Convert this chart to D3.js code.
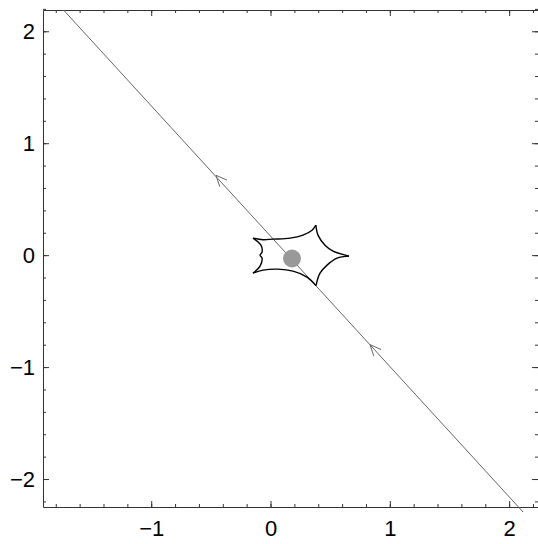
<!DOCTYPE html>
<html>
<head>
<meta charset="utf-8">
<script src="https://cdn.jsdelivr.net/npm/d3@7"></script>
<style>
  body { margin: 0; background: #fff; }
  svg { display: block; }
  .axis text { font-family: "Liberation Sans", Arial, sans-serif; font-size: 22px; fill: #000; }
  .axis path, .axis line { stroke: #333; }
</style>
</head>
<body>
<div id="chart"></div>
<script>
// tick values
var xTicks = [-1, 0, 1, 2];
var yTicks = [-2, -1, 0, 1, 2];
var xMinor = d3.range(-1.8, 2.21, 0.2).map(function(v) { return Math.round(v * 10) / 10; });
var yMinor = d3.range(-2.2, 2.21, 0.2).map(function(v) { return Math.round(v * 10) / 10; });

// source trajectory (straight line) and direction arrows
var trajX = [-1.748, 2.117];
var trajY = [2.205, -2.295];
var arrowX = [-0.457, 0.834];
var arrowY = [0.713, -0.80];

// source disk
var diskX = 0.18, diskY = -0.03, diskR = 0.075;

// caustic curve, split at the cusps
var causticTop = [[-0.147, 0.152], [-0.063, 0.138], [0.021, 0.143], [0.163, 0.152], [0.272, 0.179], [0.348, 0.223], [0.38, 0.268]];
var causticUpperRight = [[0.38, 0.268], [0.398, 0.179], [0.457, 0.089], [0.524, 0.036], [0.658, -0.009]];
var causticLowerRight = [[0.658, -0.009], [0.558, -0.027], [0.474, -0.089], [0.415, -0.161], [0.381, -0.272]];
var causticBottom = [[0.381, -0.272], [0.306, -0.196], [0.189, -0.143], [0.063, -0.125], [-0.063, -0.134], [-0.147, -0.161]];
var causticLeft = [[-0.147, -0.161], [-0.088, -0.098], [-0.071, -0.027], [-0.088, 0.0], [-0.071, 0.027], [-0.080, 0.089], [-0.147, 0.152]];

var width = 538, height = 544;
var margin = {top: 10, right: 0, bottom: 37, left: 43};
var w = width - margin.left - margin.right,
    h = height - margin.top - margin.bottom;

var x = d3.scaleLinear().domain([-1.907, 2.242]).range([0, w]);
var y = d3.scaleLinear().domain([-2.25, 2.19]).range([h, 0]);

var svg = d3.select("#chart").append("svg")
    .attr("width", width)
    .attr("height", height)
    .append("g")
    .attr("transform", "translate(" + margin.left + "," + margin.top + ")");

svg.append("clipPath").attr("id", "clip")
    .append("rect").attr("x", 0).attr("y", 0).attr("width", w).attr("height", h + 6);

// frame with ticks inside
function drawAxis(axis, tr, minor, labels) {
  var g = svg.append("g").attr("class", "axis").attr("transform", tr);
  g.call(axis);
  if (!labels) g.selectAll("text").remove();
  if (minor) g.select(".domain").remove();
  return g;
}

var fmt = function(d) { return d < 0 ? "\u2212" + Math.abs(d) : d; };

drawAxis(d3.axisBottom(x).tickValues(xMinor).tickSize(-3).tickFormat(""), "translate(0," + h + ")", true, false);
drawAxis(d3.axisTop(x).tickValues(xMinor).tickSize(-3).tickFormat(""), "translate(0,0)", true, false);
drawAxis(d3.axisLeft(y).tickValues(yMinor).tickSize(-3).tickFormat(""), "translate(0,0)", true, false);
drawAxis(d3.axisRight(y).tickValues(yMinor).tickSize(-3).tickFormat(""), "translate(" + w + ",0)", true, false);

var xb = drawAxis(d3.axisBottom(x).tickValues(xTicks).tickSize(-6).tickPadding(13).tickSizeOuter(0).tickFormat(fmt),
    "translate(0," + h + ")", false, true);
drawAxis(d3.axisLeft(y).tickValues(yTicks).tickSize(-6).tickPadding(8).tickSizeOuter(0).tickFormat(fmt),
    "translate(0,0)", false, true);
drawAxis(d3.axisTop(x).tickValues(xTicks).tickSize(-6).tickSizeOuter(0).tickFormat(""), "translate(0,0)", false, false);
drawAxis(d3.axisRight(y).tickValues(yTicks).tickSize(-6).tickSizeOuter(0).tickFormat(""), "translate(" + w + ",0)", false, false);
xb.selectAll("text").attr("dy", "0.71em");

// trajectory
var plot = svg.append("g").attr("clip-path", "url(#clip)");
var traj = trajX.map(function(d, i) { return [d, trajY[i]]; });
plot.append("path")
    .datum(traj)
    .attr("fill", "none")
    .attr("stroke", "#666")
    .attr("stroke-width", 1)
    .attr("d", d3.line().x(function(d) { return x(d[0]); }).y(function(d) { return y(d[1]); }));

// arrow heads pointing back along the line (toward upper left)
var ang = Math.atan2(y(trajY[0]) - y(trajY[1]), x(trajX[0]) - x(trajX[1]));
arrowX.forEach(function(ax, i) {
  var tx = x(ax), ty = y(arrowY[i]);
  var len = 12, spread = 0.42;
  var pts = [
    [tx - len * Math.cos(ang - spread), ty - len * Math.sin(ang - spread)],
    [tx, ty],
    [tx - len * Math.cos(ang + spread), ty - len * Math.sin(ang + spread)]
  ];
  plot.append("path")
      .attr("fill", "none")
      .attr("stroke", "#666")
      .attr("stroke-width", 1)
      .attr("d", d3.line()(pts));
});

// source disk
plot.append("circle")
    .attr("cx", x(diskX))
    .attr("cy", y(diskY))
    .attr("r", x(diskR) - x(0))
    .attr("fill", "#999");

// caustic
var causticLine = d3.line()
    .x(function(d) { return x(d[0]); })
    .y(function(d) { return y(d[1]); })
    .curve(d3.curveCatmullRom);
[causticTop, causticUpperRight, causticLowerRight, causticBottom, causticLeft].forEach(function(seg) {
  plot.append("path")
      .datum(seg)
      .attr("fill", "none")
      .attr("stroke", "#000")
      .attr("stroke-width", 1.4)
      .attr("d", causticLine);
});
</script>
</body>
</html>
